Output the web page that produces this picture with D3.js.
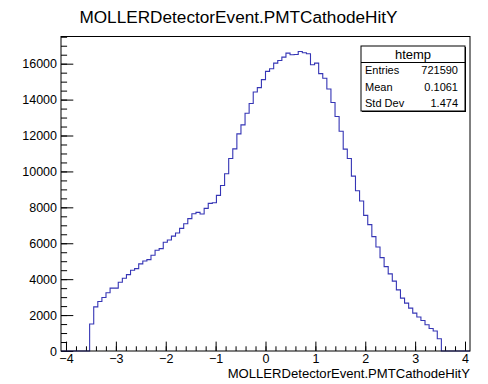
<!DOCTYPE html>
<html>
<head>
<meta charset="UTF-8">
<title>htemp</title>
<script src="https://d3js.org/d3.v7.min.js"></script>
<style>
  body { margin: 0; background: #fff; }
  text { font-family: "Liberation Sans", Arial, Helvetica, sans-serif; fill: #000; }
</style>
</head>
<body>
<div class="canvas"></div>
<script>
  // histogram htemp: 100 bins on [-4.1, 4.1]
  const xMin = -4.1
  const xMax = 4.1
  const nBins = 100
  const firstFilled = 7
  const filledCounts = [
    1500, 2460, 2755, 2980, 3240, 3500, 3500, 3830, 4055, 4255,
    4500, 4590, 4850, 5015, 5090, 5330, 5610, 5700, 6055, 6180,
    6400, 6570, 6830, 7090, 7370, 7645, 7720, 7630, 7945, 8220,
    8255, 8665, 9220, 9870, 10720, 11255, 12090, 12590, 13240, 13780,
    14420, 14665, 15110, 15570, 15720, 16030, 16180, 16365, 16590, 16500,
    16515, 16680, 16610, 16555, 15945, 16030, 15445, 15185, 14590, 13835,
    13055, 12240, 11240, 10720, 9740, 8920, 8350, 7555, 7035, 6370,
    5795, 5200, 4700, 4295, 3890, 3405, 2945, 2665, 2390, 2110,
    1890, 1700, 1460, 1255, 1110, 685
  ]
  const xMajorTicks = [-4, -3, -2, -1, 0, 1, 2, 3, 4]
  const yMajorTicks = [0, 2000, 4000, 6000, 8000, 10000, 12000, 14000, 16000]
  const statsLabels = ['Entries', 'Mean', 'Std Dev']
  const statsValues = ['721590', '0.1061', '1.474']
  const histName = 'htemp'
  const varName = 'MOLLERDetectorEvent.PMTCathodeHitY'

  const width = 488
  const height = 384
  let [mt, mb, ml, mr] = [36.5, 33, 61, 18]

  const svg = d3.select('.canvas')
    .append('svg')
    .attr('width', width)
    .attr('height', height)

  const graphWidth = width - ml - mr
  const graphHeight = height - mt - mb

  const graph = svg.append('g')
    .attr('transform', `translate(${ml}, ${mt})`)

  const binW = (xMax - xMin) / nBins
  const counts = d3.range(nBins).map(i => {
    const k = i - firstFilled
    return (k >= 0 && k < filledCounts.length) ? filledCounts[k] : 0
  })

  const x = d3.scaleLinear()
    .domain([xMin, xMax])
    .range([0, graphWidth])

  const y = d3.scaleLinear()
    .domain([0, d3.max(counts) * 1.05])
    .range([graphHeight, 0])

  // minor ticks
  const xMinor = d3.range(-40, 41, 2).map(v => v / 10).filter(v => v >= xMin && v <= xMax)
  const yMinor = d3.range(0, y.domain()[1], 500)

  graph.append('g')
    .attr('transform', `translate(0, ${graphHeight})`)
    .call(d3.axisBottom(x).tickValues(xMinor).tickSize(-4.7).tickFormat(''))
  graph.append('g')
    .call(d3.axisLeft(y).tickValues(yMinor).tickSize(-6.1).tickFormat(''))

  const xAxisG = graph.append('g')
    .attr('transform', `translate(0, ${graphHeight})`)
    .call(d3.axisBottom(x).tickValues(xMajorTicks).tickSize(-9.4).tickPadding(3.5).tickFormat(d3.format('d')))
  const yAxisG = graph.append('g')
    .call(d3.axisLeft(y).tickValues(yMajorTicks).tickSize(-12.3).tickPadding(4).tickFormat(d3.format('d')))

  graph.selectAll('.domain').remove()
  graph.selectAll('.tick line').attr('stroke', '#000')
  graph.selectAll('.tick text')
    .style('font-size', '12.5px')
    .attr('fill', '#000')

  // histogram outline
  const pts = counts.map((c, i) => [xMin + i * binW, c])
  pts.push([xMax, counts[nBins - 1]])
  const line = d3.line()
    .x(d => x(d[0]))
    .y(d => y(d[1]))
    .curve(d3.curveStepAfter)

  graph.append('path')
    .attr('fill', 'none')
    .attr('stroke', '#3535b5')
    .attr('stroke-width', 1.1)
    .attr('d', line(pts))

  // frame
  graph.append('rect')
    .attr('x', 0)
    .attr('y', 0)
    .attr('width', graphWidth)
    .attr('height', graphHeight)
    .attr('fill', 'none')
    .attr('stroke', '#000')
    .attr('stroke-width', 1)

  // title
  svg.append('text')
    .attr('x', 238.5)
    .attr('y', 23)
    .attr('text-anchor', 'middle')
    .style('font-size', '17.2px')
    .text(varName)

  // x axis title
  svg.append('text')
    .attr('x', ml + graphWidth)
    .attr('y', 377.5)
    .attr('text-anchor', 'end')
    .style('font-size', '13.1px')
    .text(varName)

  // stats box
  const bx = 361, by = 46, bw = 104, bh = 65
  const rowH = (bh - 16.5) / statsLabels.length
  const stats = svg.append('g')
  stats.append('rect')
    .attr('x', bx + 1).attr('y', by + 1)
    .attr('width', bw).attr('height', bh)
    .attr('fill', '#000')
  stats.append('rect')
    .attr('x', bx).attr('y', by)
    .attr('width', bw).attr('height', bh)
    .attr('fill', '#fff')
    .attr('stroke', '#000')
  stats.append('line')
    .attr('x1', bx).attr('x2', bx + bw)
    .attr('y1', by + 16.5).attr('y2', by + 16.5)
    .attr('stroke', '#000')
  stats.append('text')
    .attr('x', bx + bw / 2)
    .attr('y', by + 8.5)
    .attr('dy', '0.35em')
    .attr('text-anchor', 'middle')
    .style('font-size', '13px')
    .text(histName)
  statsLabels.forEach((lab, i) => {
    const cy = by + 16.5 + rowH * (i + 0.5)
    stats.append('text')
      .attr('x', bx + 4)
      .attr('y', cy)
      .attr('dy', '0.35em')
      .style('font-size', '11px')
      .text(lab)
    stats.append('text')
      .attr('x', bx + bw - 7)
      .attr('y', cy)
      .attr('dy', '0.35em')
      .attr('text-anchor', 'end')
      .style('font-size', '11px')
      .text(statsValues[i])
  })
</script>
</body>
</html>
